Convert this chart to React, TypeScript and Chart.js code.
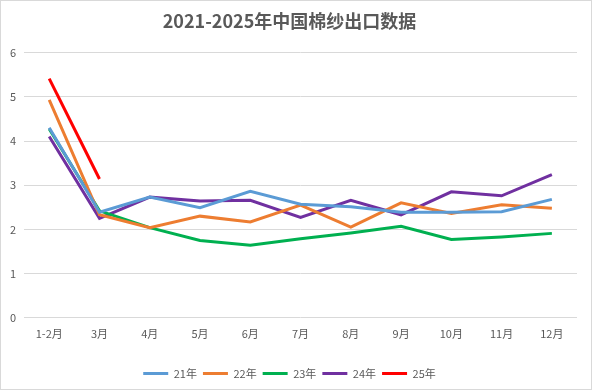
import React, { useEffect, useRef } from "react";
import { Chart, registerables } from "chart.js";

Chart.register(...registerables);

const categories = ["1-2月", "3月", "4月", "5月", "6月", "7月", "8月", "9月", "10月", "11月", "12月"];
const s21 = [4.3, 2.39, 2.73, 2.49, 2.86, 2.57, 2.51, 2.39, 2.39, 2.4, 2.68];
const s22 = [4.93, 2.33, 2.04, 2.3, 2.17, 2.55, 2.05, 2.6, 2.36, 2.56, 2.48];
const s23 = [4.27, 2.42, 2.04, 1.75, 1.64, 1.79, 1.92, 2.07, 1.77, 1.83, 1.91];
const s24 = [4.1, 2.25, 2.73, 2.64, 2.66, 2.27, 2.66, 2.33, 2.85, 2.76, 3.24];
const s25 = [5.41, 3.14, null, null, null, null, null, null, null, null, null];
const seriesNames = ["21年", "22年", "23年", "24年", "25年"];
const colors = ["#5B9BD5", "#ED7D31", "#00B050", "#7030A0", "#FF0000"];
const yTicks = [0, 1, 2, 3, 4, 5, 6];

const FONT = "'Noto Sans CJK SC', 'Noto Sans', sans-serif";

export default function App() {
  const ref = useRef<HTMLCanvasElement | null>(null);
  useEffect(() => {
    document.body.style.margin = "0";
    const data = [s21, s22, s23, s24, s25];
    const chart = new Chart(ref.current as HTMLCanvasElement, {
      type: "line",
      data: {
        labels: categories,
        datasets: data.map((d, i) => ({
          label: seriesNames[i],
          data: d,
          borderColor: colors[i],
          backgroundColor: colors[i],
          borderWidth: 3,
          pointRadius: 0,
          pointHoverRadius: 0,
          tension: 0,
          fill: false,
          spanGaps: false,
          pointStyle: "line",
        })),
      },
      options: {
        responsive: false,
        animation: false,
        layout: { padding: { left: 1, right: 14, top: 4, bottom: 0 } },
        plugins: {
          title: {
            display: true,
            text: "2021-2025年中国棉纱出口数据",
            color: "#595959",
            font: { family: FONT, size: 18, weight: "bold" },
            padding: { top: 5, bottom: 21 },
          },
          legend: {
            position: "bottom",
            labels: {
              usePointStyle: true,
              pointStyle: "line",
              pointStyleWidth: 25,
              boxHeight: 3,
              color: "#595959",
              font: { family: FONT, size: 11 },
              padding: 6,
            },
          },
          tooltip: { enabled: false },
        },
        scales: {
          x: {
            offset: true,
            grid: { display: false },
            border: { display: false },
            afterFit: (s: any) => {
              s.height += 21;
            },
            ticks: {
              color: "#595959",
              font: { family: FONT, size: 11 },
              maxRotation: 0,
              autoSkip: false,
              padding: 1,
            },
          },
          y: {
            min: 0,
            max: 6,
            afterBuildTicks: (axis: any) => {
              axis.ticks = yTicks.map((v) => ({ value: v }));
            },
            grid: { color: "#D9D9D9", lineWidth: 1, drawTicks: false },
            border: { display: false },
            ticks: {
              color: "#595959",
              font: { family: FONT, size: 11 },
              padding: 8,
            },
          },
        },
      },
    });
    return () => chart.destroy();
  }, []);
  return (
    <div
      style={{
        width: 592,
        height: 390,
        boxSizing: "border-box",
        border: "1px solid #D9D9D9",
        background: "#fff",
        position: "relative",
      }}
    >
      <canvas ref={ref} width={590} height={388} style={{ display: "block" }} />
    </div>
  );
}
